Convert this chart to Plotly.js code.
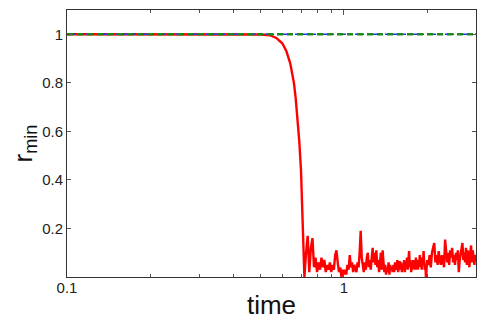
<!DOCTYPE html>
<html>
<head>
<meta charset="utf-8">
<script src="https://cdn.plot.ly/plotly-3.0.1.min.js"></script>
<style>
  html, body { margin: 0; padding: 0; background: white; }
  #chart { width: 491px; height: 327px; }
</style>
</head>
<body>
<div id="chart"></div>
<script>
// r_min vs time: flat at 1, collapse near t ~ 0.7, then noisy near 0
const timeDrop = [0.1, 0.2, 0.3, 0.4, 0.5, 0.54, 0.57, 0.6, 0.62, 0.64, 0.66, 0.67, 0.68, 0.69, 0.7, 0.705, 0.71, 0.715];
const rDrop = [1, 1, 1, 1, 0.999, 0.996, 0.985, 0.962, 0.93, 0.88, 0.8, 0.735, 0.66, 0.56, 0.44, 0.3, 0.17, 0.06];

const timeNoise = [
    0.72, 0.73, 0.74, 0.75, 0.76, 0.77, 0.78, 0.79, 0.8, 0.81, 0.82, 0.83, 0.84, 0.85, 0.86,
    0.87, 0.88, 0.89, 0.9, 0.91, 0.92, 0.93, 0.94, 0.95, 0.96, 0.97, 0.98, 0.99, 1.0,
    1.01, 1.02, 1.03, 1.04, 1.05, 1.06, 1.07, 1.08, 1.09, 1.1,
    1.11, 1.12, 1.13, 1.14, 1.15, 1.16, 1.17, 1.18, 1.19, 1.2,
    1.21, 1.22, 1.23, 1.24, 1.25, 1.26, 1.27, 1.28, 1.29, 1.3,
    1.31, 1.32, 1.33, 1.34, 1.35, 1.36, 1.37, 1.38, 1.39, 1.4,
    1.41, 1.42, 1.43, 1.44, 1.45, 1.46, 1.47, 1.48, 1.49, 1.5,
    1.51, 1.52, 1.53, 1.54, 1.55, 1.56, 1.57, 1.58, 1.59, 1.6,
    1.61, 1.62, 1.63, 1.64, 1.65, 1.66, 1.67, 1.68, 1.69, 1.7,
    1.71, 1.72, 1.73, 1.74, 1.75, 1.76, 1.77, 1.78, 1.79, 1.8,
    1.81, 1.82, 1.83, 1.84, 1.85, 1.86, 1.87, 1.88, 1.89, 1.9,
    1.91, 1.92, 1.93, 1.94, 1.95, 1.96, 1.97, 1.98, 1.99, 2.0,
    2.02, 2.04, 2.06, 2.08, 2.1, 2.12, 2.14, 2.16, 2.18, 2.2,
    2.22, 2.24, 2.26, 2.28, 2.3, 2.32, 2.34, 2.36, 2.38, 2.4,
    2.42, 2.44, 2.46, 2.48, 2.5, 2.52, 2.54, 2.56, 2.58, 2.6,
    2.62, 2.64, 2.66, 2.68, 2.7, 2.72, 2.74, 2.76, 2.78, 2.8,
    2.82, 2.84, 2.86, 2.88, 2.9, 2.92, 2.94, 2.96, 2.98, 3.0
];
const rNoise = [
    0.0, 0.10, 0.17, 0.02, 0.12, 0.16, 0.04, 0.08, 0.02, 0.06, 0.03, 0.08, 0.04, 0.07, 0.02,
    0.05, 0.03, 0.06, 0.02, 0.05, 0.03, 0.09, 0.11, 0.06, 0.02, 0.04, 0.0, 0.03, 0.01,
    0.03, 0.01, 0.05, 0.03, 0.09, 0.04, 0.06, 0.02, 0.05, 0.03,
    0.02, 0.06, 0.04, 0.10, 0.19, 0.08, 0.05, 0.02, 0.06, 0.03,
    0.08, 0.10, 0.04, 0.07, 0.03, 0.09, 0.12, 0.06, 0.10, 0.05,
    0.11, 0.04, 0.07, 0.02, 0.08, 0.10, 0.03, 0.11, 0.06, 0.02,
    0.05, 0.01, 0.04, 0.02, 0.06, 0.01, 0.05, 0.03, 0.04, 0.02,
    0.05, 0.02, 0.06, 0.03, 0.04, 0.07, 0.02, 0.05, 0.065, 0.03,
    0.06, 0.02, 0.05, 0.03, 0.07, 0.02, 0.06, 0.04, 0.08, 0.03,
    0.06, 0.107, 0.04, 0.07, 0.02, 0.05, 0.03, 0.07, 0.04, 0.06,
    0.03, 0.08, 0.04, 0.06, 0.03, 0.07, 0.05, 0.09, 0.04, 0.06,
    0.03, 0.08, 0.05, 0.107, 0.06, 0.03, 0.05, -0.01, 0.04, 0.07,
    0.05, 0.09, 0.04, 0.10, 0.12, 0.14, 0.06, 0.09, 0.05, 0.107,
    0.07, 0.05, 0.09, 0.06, 0.04, 0.154, 0.09, 0.06, 0.10, 0.05,
    0.11, 0.08, 0.12, 0.06, 0.09, 0.05, 0.10, 0.07, 0.11, 0.02,
    0.07, 0.10, 0.12, 0.14, 0.07, 0.10, 0.06, 0.12, 0.05, 0.11,
    0.07, 0.04, 0.10, 0.13, 0.06, 0.11, 0.08, 0.05, 0.09, 0.08
];

// reference levels drawn at r = 1
const timeRef = [0.1, 3];
const rRef = [1, 1];

const majorTicks = [0.1, 1];
const minorTicks = [0.2, 0.3, 0.4, 0.5, 0.6, 0.7, 0.8, 0.9, 2, 3];
const yTicks = [0.2, 0.4, 0.6, 0.8, 1];

const time = timeDrop.concat(timeNoise);
const r = rDrop.concat(rNoise);

const traces = [
    {
        x: time, y: r,
        type: 'scatter', mode: 'lines',
        line: { color: '#ff0000', width: 2.4 }
    },
    {
        x: timeRef, y: rRef,
        type: 'scatter', mode: 'lines',
        line: { color: '#2233ee', width: 1.5, dash: 'dashdot' }
    },
    {
        x: timeRef, y: rRef,
        type: 'scatter', mode: 'lines',
        line: { color: '#1a8a1a', width: 2.5, dash: '6px,4px' }
    }
];

const fontFamily = 'Liberation Sans, Arial, sans-serif';
const axisFont = { family: fontFamily, size: 15, color: '#222' };

const layout = {
    width: 491,
    height: 327,
    margin: { l: 67, r: 15, t: 10, b: 50 },
    showlegend: false,
    paper_bgcolor: 'white',
    plot_bgcolor: 'white',
    xaxis: {
        type: 'log',
        range: [-1, Math.log10(3)],
        automargin: true,
        tickmode: 'array',
        tickvals: majorTicks,
        ticktext: ['0.1', '1'],
        ticks: 'inside',
        ticklen: 5,
        tickcolor: '#555',
        ticklabelstandoff: -3,
        minor: { tickmode: 'array', tickvals: minorTicks, ticks: 'inside', ticklen: 3, tickcolor: '#555' },
        showline: true,
        linecolor: '#333',
        linewidth: 1,
        mirror: 'allticks',
        showgrid: false,
        zeroline: false,
        tickfont: axisFont,
        title: { text: 'time', font: { family: fontFamily, size: 26, color: '#111' }, standoff: 0 }
    },
    yaxis: {
        range: [0, 1.1],
        automargin: true,
        tickmode: 'array',
        tickvals: yTicks,
        ticktext: ['0.2', '0.4', '0.6', '0.8', '1'],
        ticks: 'inside',
        ticklen: 4,
        tickcolor: '#555',
        showline: true,
        linecolor: '#333',
        linewidth: 1,
        mirror: 'allticks',
        showgrid: false,
        zeroline: false,
        tickfont: axisFont,
        title: { text: 'r<sub>min</sub>', font: { family: fontFamily, size: 26, color: '#111' }, standoff: 2 }
    }
};

Plotly.newPlot('chart', traces, layout, { displayModeBar: false, staticPlot: true });
</script>
</body>
</html>
